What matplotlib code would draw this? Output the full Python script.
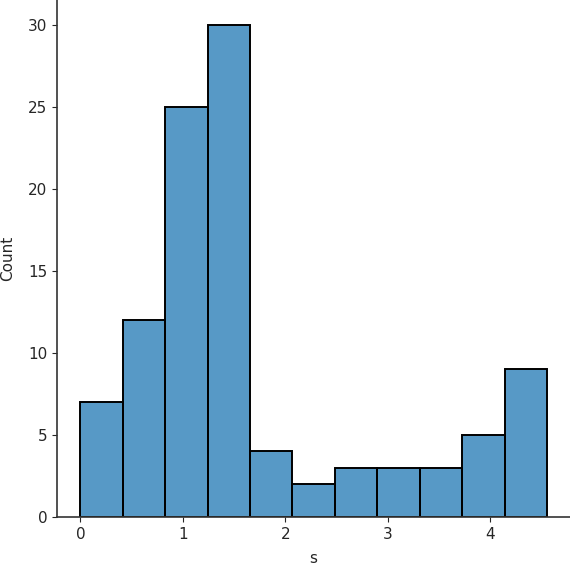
import matplotlib
matplotlib.use("Agg")
import matplotlib.pyplot as plt
import numpy as np

# histogram of s: 11 bins
bin_edges = np.linspace(0.0, 4.556, 12)
counts = [7, 12, 25, 30, 4, 2, 3, 3, 3, 5, 9]

fig = plt.figure(figsize=(5.70, 5.66), dpi=100)
ax = fig.add_axes([57 / 570, 49 / 566, 513 / 570, 517 / 566])

ax.hist(bin_edges[:-1], bins=bin_edges, weights=counts,
        color="#1f77b4", alpha=0.75, edgecolor="none")
# edges drawn fully opaque on top
ax.hist(bin_edges[:-1], bins=bin_edges, weights=counts,
        histtype="bar", fill=False, edgecolor="black", linewidth=1.4)

ax.set_xlim(-0.228, 4.78)
ax.set_ylim(0, 31.5)
ax.set_xticks([0, 1, 2, 3, 4])
ax.set_yticks([0, 5, 10, 15, 20, 25, 30])
ax.tick_params(labelsize=11, colors="#262626")
ax.set_xlabel("s", fontsize=11, color="#262626", labelpad=7)
ax.set_ylabel("Count", fontsize=11, color="#262626", labelpad=9)

for side in ["top", "right"]:
    ax.spines[side].set_visible(False)
for side in ["left", "bottom"]:
    ax.spines[side].set_color("#333333")
    ax.spines[side].set_linewidth(1.2)

fig.savefig("out.png", dpi=100)
